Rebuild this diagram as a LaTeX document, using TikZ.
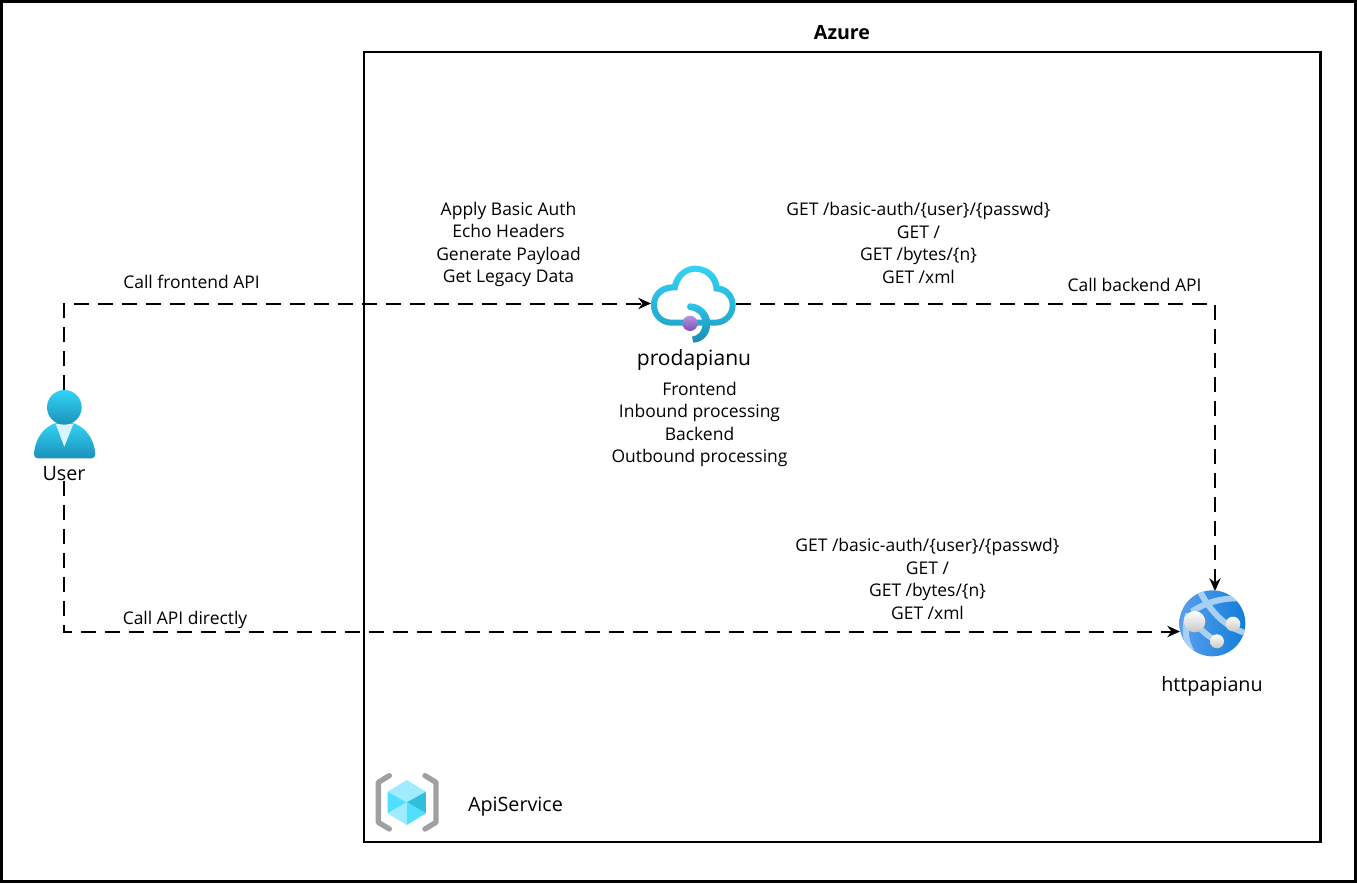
\documentclass[tikz,border=0pt]{standalone}
\usepackage{fontspec}
\setmainfont{Open Sans}
\usetikzlibrary{arrows.meta}
\definecolor{cyanA}{HTML}{32D4F5}
\definecolor{cyanB}{HTML}{198AB3}
\definecolor{tieC}{HTML}{D8F5FC}
\definecolor{cubeA}{HTML}{A0EBFF}
\definecolor{cubeB}{HTML}{50DFFF}
\definecolor{cubeC}{HTML}{32BEDD}
\definecolor{bracketC}{HTML}{A0A0A0}
\definecolor{globeA}{HTML}{5EA0EF}
\definecolor{globeB}{HTML}{0E7DD8}
\definecolor{bandC}{HTML}{A8D0F5}
\definecolor{dotA}{HTML}{B796DC}
\definecolor{dotB}{HTML}{7B4FB8}
\tikzset{
  conn/.style={draw=black,line width=1.5pt,dash pattern=on 11.25pt off 6.75pt,-{Stealth[length=9.5pt,width=8.5pt]}},
  lbl/.style={font=\fontsize{13.1}{16.85}\selectfont,align=center,inner sep=0pt,text=black},
  biglbl/.style={font=\fontsize{14.8}{17}\selectfont,align=center,inner sep=0pt,text=black},
  hugelbl/.style={font=\fontsize{15.8}{18}\selectfont,align=center,inner sep=0pt,text=black},
  titlelbl/.style={font=\fontsize{14.7}{17}\selectfont\bfseries,align=center,inner sep=0pt,text=black},
  anchorbox/.style={draw=none,inner sep=0pt,outer sep=0pt},
  ball/.style={top color=white,bottom color=black!22,draw=none},
  band/.style={draw=bandC,line width=4.5pt,fill=none},
}
\begin{document}
\begin{tikzpicture}[x=0.75pt,y=-0.75pt]
\useasboundingbox (0,0) rectangle (1357,883);
\fill[white] (0,0) rectangle (1357,883);
\node[anchorbox,draw=black,line width=2.25pt,minimum width=1354*0.75pt,minimum height=880*0.75pt] (page) at (678.5,441.5) {};
\node[anchorbox,draw=black,line width=1.8pt,minimum width=956.5*0.75pt,minimum height=790*0.75pt] (azure) at (842.25,447) {};

% anchors of the icons
\node[anchorbox,minimum width=62*0.75pt,minimum height=68*0.75pt] (user) at (64,424) {};
\node[anchorbox,minimum width=85*0.75pt,minimum height=78*0.75pt] (apim) at (693.5,303.5) {};
\node[anchorbox,minimum width=66*0.75pt,minimum height=66*0.75pt] (app) at (1212.5,623) {};
\node[anchorbox,minimum width=66*0.75pt,minimum height=66*0.75pt] (rg) at (406.5,802) {};
\coordinate (appleft) at (1180,631.5);
\coordinate (apptop) at (1215,591);

% labels
\node[titlelbl] (azurelbl) at (842,32.5) {Azure};
\node[biglbl] (userlbl) at (64,473.5) {User};
\node[hugelbl] (apimlbl) at (694,360) {prodapianu};
\node[biglbl] (applbl) at (1212,686) {httpapianu};
\node[biglbl] (rglbl) at (515.5,807) {ApiService};
\node[lbl] (opslbl) at (508.5,244.5) {Apply Basic Auth\\Echo Headers\\Generate Payload\\Get Legacy Data};
\node[lbl] (backlbl) at (918.5,243) {GET /basic-auth/\{user\}/\{passwd\}\\GET /\\GET /bytes/\{n\}\\GET /xml};
\node[lbl] (directlbl) at (927.5,579) {GET /basic-auth/\{user\}/\{passwd\}\\GET /\\GET /bytes/\{n\}\\GET /xml};
\node[lbl] (policylbl) at (699.5,424.5) {Frontend\\Inbound processing\\Backend\\Outbound processing};
\node[lbl] (c1) at (191.5,282) {Call frontend API};
\node[lbl] (c2) at (1134.5,284.5) {Call backend API};
\node[lbl] (c3) at (185,619.5) {Call API directly};

% connectors
\draw[conn] (user.north) |- (apim.west);
\draw[conn] (apim.east) -| (apptop);
\draw[conn] (userlbl.south) |- (appleft);

% user icon
\begin{scope}[shift={(20,380)},scale=0.3333]
\shade[top color=cyanA,bottom color=cyanB!90!cyanA] (42,222) .. controls (46,165) and (85,125) .. (133,125) .. controls (181,125) and (222,165) .. (226,222) .. controls (226,230) and (222,235) .. (214,235) -- (54,235) .. controls (46,235) and (42,230) .. (42,222) -- cycle;
\fill[tieC] (107,132) -- (160,132) -- (133,200) -- cycle;
\shade[top color=cyanA,bottom color=cyanB!90!cyanA] (133,82) circle (52);
\end{scope}

% API management icon
\begin{scope}[shift={(630,255)},scale=0.3333]
\shade[top color=cyanA,bottom color=cyanB!60!cyanA,even odd rule] (63,150) .. controls (63,115) and (90,88) .. (127,88) .. controls (135,55) and (165,32) .. (195,32) .. controls (235,32) and (265,60) .. (268,92) .. controls (295,95) and (317,120) .. (317,150) .. controls (317,185) and (290,212) .. (255,212) -- (125,212) .. controls (90,212) and (63,185) .. (63,150) -- cycle
(81,150) .. controls (81,176) and (100,194) .. (125,194) -- (255,194) .. controls (280,194) and (299,176) .. (299,150) .. controls (299,125) and (280,109) .. (251,109) .. controls (251,72) and (225,50) .. (195,50) .. controls (168,50) and (147,72) .. (142,106) .. controls (105,104) and (81,120) .. (81,150) -- cycle;
\shade[top color=cyanA!80!cyanB,bottom color=cyanB] (178,145) .. controls (215,145) and (241,175) .. (241,205) .. controls (241,237) and (220,262) .. (190,263) -- (186,245) .. controls (207,242) and (218,226) .. (218,205) .. controls (218,184) and (203,167) .. (178,165) .. controls (169,161) and (169,149) .. (178,145) -- cycle;
\shade[top color=dotA,bottom color=dotB] (180,205) circle (23);
\end{scope}

% app service icon
\begin{scope}[shift={(1160,570)},scale=0.3333]
\begin{scope}
\clip (157,160) circle (99);
\shade[left color=globeA,right color=globeB] (50,55) rectangle (265,265);
\draw[band] (120,65) .. controls (150,120) and (190,170) .. (260,190);
\draw[band] (95,125) .. controls (140,95) and (190,82) .. (255,85);
\draw[band] (85,130) .. controls (72,170) and (75,215) .. (95,245);
\draw[band] (115,170) .. controls (135,190) and (150,205) .. (180,215);
\end{scope}
\shade[ball] (104,155) circle (32);
\shade[ball] (219,162) circle (22);
\shade[ball] (171,214) circle (21);
\end{scope}

% resource group icon
\begin{scope}[shift={(360,760)},scale=0.3333]
\draw[bracketC,line width=4pt,line cap=round,line join=round] (88,47) -- (55,67) -- (55,187) -- (88,207);
\draw[bracketC,line width=4pt,line cap=round,line join=round] (195,47) -- (228,67) -- (228,187) -- (195,207);
\fill[cubeA] (83,95) -- (140,60) -- (198,95) -- (140,127) -- cycle;
\fill[cubeB] (83,95) -- (140,127) -- (83,160) -- cycle;
\fill[cubeC] (198,95) -- (140,127) -- (198,160) -- cycle;
\fill[cubeA] (83,160) -- (140,127) -- (140,195) -- cycle;
\fill[cubeB] (198,160) -- (140,127) -- (140,195) -- cycle;
\end{scope}
\end{tikzpicture}
\end{document}
